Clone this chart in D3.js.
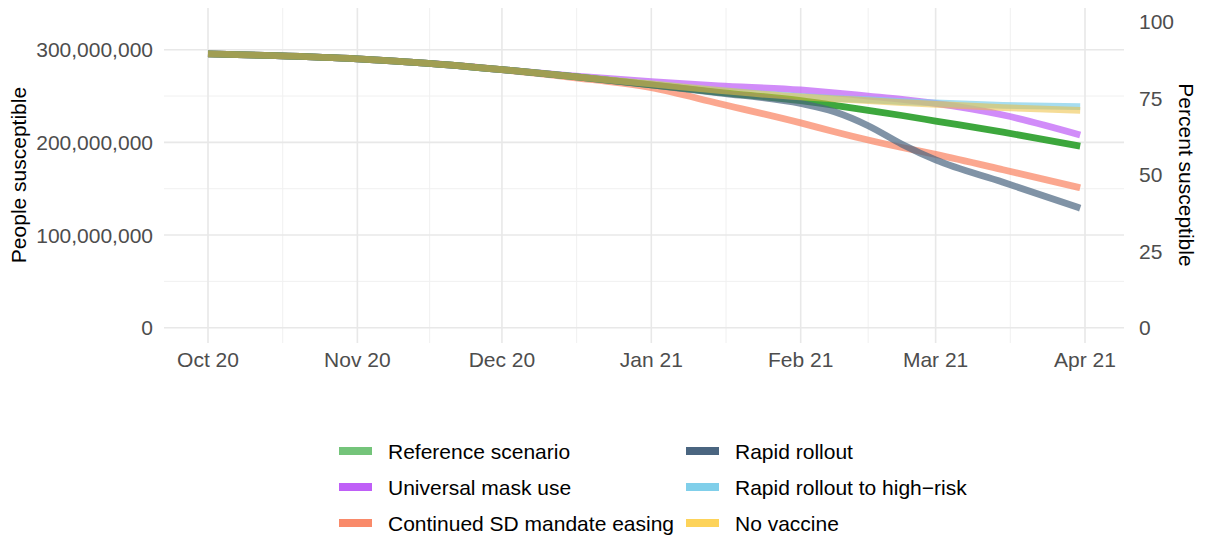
<!DOCTYPE html>
<html><head><meta charset="utf-8">
<script src="https://cdn.jsdelivr.net/npm/d3@7"></script>
<style>
body{margin:0;background:#fff}
svg{display:block}
text{font-family:"Liberation Sans",Arial,Helvetica,sans-serif}
</style>
</head><body>
<svg id="chart" width="1205" height="537"></svg>
<script>
// ---- data (millions of people susceptible) ----
const dates = ["2020-10-01","2020-10-15","2020-11-01","2020-11-15","2020-12-01","2020-12-15",
  "2021-01-01","2021-01-15","2021-02-01","2021-02-08","2021-02-15","2021-02-22","2021-03-01","2021-03-15","2021-03-31"];
const reference  = [295.5,293.5,290,285.5,278.5,271.5,262,254,245,240,234.5,229,223,211,196];
const maskUse    = [295.5,293.5,290,285.5,278.5,272,265.5,261,256.5,253.5,250,246.5,242,229.5,208];
const sdEasing   = [295.5,293.5,290,285.5,278.5,270.5,259,242,221,211.5,202.5,194.5,187,170.5,151];
const rapid      = [295.5,293.5,290,285.5,278.5,271.5,262,253.5,242,233,218,198,181,157,129];
const highRisk   = [295.5,293.5,290,285.5,278.5,271.5,263,256,249.5,247.5,246,244,242.5,240,238.5];
const noVaccine  = [295.5,293.5,290,285.5,278.5,271.5,263,256,249,247,245,243,241,237.5,234.5];
const population = 330e6;
const yTicks = [0,100e6,200e6,300e6];
const yMinor = [50e6,150e6,250e6];
const pctTicks = [0,25,50,75,100];
const xTickDates = ["2020-10-01","2020-11-01","2020-12-01","2021-01-01","2021-02-01","2021-03-01","2021-04-01"];
const xTickLabels = ["Oct 20","Nov 20","Dec 20","Jan 21","Feb 21","Mar 21","Apr 21"];

// legend entries (column-major like ggplot)
const legendOrder = [
  {name:"Reference scenario", key:"#74c47a"},
  {name:"Universal mask use", key:"#bf5ff7"},
  {name:"Continued SD mandate easing", key:"#f98a6a"},
  {name:"Rapid rollout", key:"#4a6580"},
  {name:"Rapid rollout to high\u2212risk", key:"#80cfea"},
  {name:"No vaccine", key:"#fdd35a"}
];

const parse = d3.timeParse("%Y-%m-%d");
const svg = d3.select("#chart");
const panel = {left:164, right:1124, top:8, bottom:343};

const x = d3.scaleTime().domain([parse("2020-10-01"), parse("2021-04-01")]).range([208, 1085]);
const y = d3.scaleLinear().domain([-16.5e6, 345e6]).range([panel.bottom, panel.top]);
const yPct = d3.scaleLinear().domain([0,100]).range([y(0), y(population)]);

// grid
const g = svg.append("g");
const xMajor = xTickDates.map(parse);
const xMinorD = [];
for (let i=0;i<xMajor.length-1;i++) xMinorD.push(new Date((+xMajor[i] + +xMajor[i+1])/2));
g.selectAll(".ymin").data(yMinor).join("line")
  .attr("x1",panel.left).attr("x2",panel.right).attr("y1",d=>y(d)).attr("y2",d=>y(d))
  .attr("stroke","#f0f0f0").attr("stroke-width",1);
g.selectAll(".xmin").data(xMinorD).join("line")
  .attr("y1",panel.top).attr("y2",panel.bottom).attr("x1",d=>x(d)).attr("x2",d=>x(d))
  .attr("stroke","#f0f0f0").attr("stroke-width",1);
g.selectAll(".ymaj").data(yTicks).join("line")
  .attr("x1",panel.left).attr("x2",panel.right).attr("y1",d=>y(d)).attr("y2",d=>y(d))
  .attr("stroke","#e8e8e8").attr("stroke-width",1.6);
g.selectAll(".xmaj").data(xMajor).join("line")
  .attr("y1",panel.top).attr("y2",panel.bottom).attr("x1",d=>x(d)).attr("x2",d=>x(d))
  .attr("stroke","#e8e8e8").attr("stroke-width",1.6);

// lines
const pd = dates.map(parse);
const line = d3.line().x((d,i)=>x(pd[i])).y(d=>y(d*1e6)).curve(d3.curveMonotoneX);
const drawOrder = [
  {vals:sdEasing, color:"#f98a6a", op:0.75},
  {vals:maskUse, color:"#bf5ff7", op:0.72},
  {vals:highRisk, color:"#80cfea", op:0.7},
  {vals:reference, color:"#2ca02c", op:0.92},
  {vals:rapid, color:"#4a6580", op:0.7},
  {vals:noVaccine, color:"#ecbf40", op:0.55}
];
svg.append("g").selectAll("path").data(drawOrder).join("path")
  .attr("d",d=>line(d.vals)).attr("fill","none")
  .attr("stroke",d=>d.color).attr("stroke-opacity",d=>d.op)
  .attr("stroke-width",6.8).attr("stroke-linecap","butt").attr("stroke-linejoin","round");

// axes
const axisCol = "#4d4d4d";
const fs = 21;
svg.append("g").selectAll("text").data(yTicks).join("text")
  .attr("x",153).attr("y",d=>y(d)).attr("dy","0.36em").attr("text-anchor","end")
  .attr("fill",axisCol).attr("font-size",fs).text(d=>d3.format(",")(d));
svg.append("g").selectAll("text").data(pctTicks).join("text")
  .attr("x",1139).attr("y",d=>yPct(d)).attr("dy","0.36em").attr("text-anchor","start")
  .attr("fill",axisCol).attr("font-size",fs).text(d=>d);
svg.append("g").selectAll("text").data(xMajor).join("text")
  .attr("x",d=>x(d)).attr("y",367).attr("text-anchor","middle")
  .attr("fill",axisCol).attr("font-size",fs).text((d,i)=>xTickLabels[i]);

svg.append("text").attr("transform","translate(26,175) rotate(-90)")
  .attr("text-anchor","middle").attr("font-size",fs).attr("fill","#000").text("People susceptible");
svg.append("text").attr("transform","translate(1179,175) rotate(90)")
  .attr("text-anchor","middle").attr("font-size",fs).attr("fill","#000").text("Percent susceptible");

// legend
const lg = svg.append("g");
const items = lg.selectAll("g").data(legendOrder).join("g")
  .attr("transform",(d,i)=>`translate(${i<3?339:686},${451+36*(i%3)})`);
items.append("rect").attr("x",0).attr("y",-4).attr("width",33).attr("height",8).attr("fill",d=>d.key);
items.append("text").attr("x",49).attr("y",0).attr("dy","0.36em").attr("font-size",fs)
  .attr("fill","#000").text(d=>d.name);
</script>
</body></html>
